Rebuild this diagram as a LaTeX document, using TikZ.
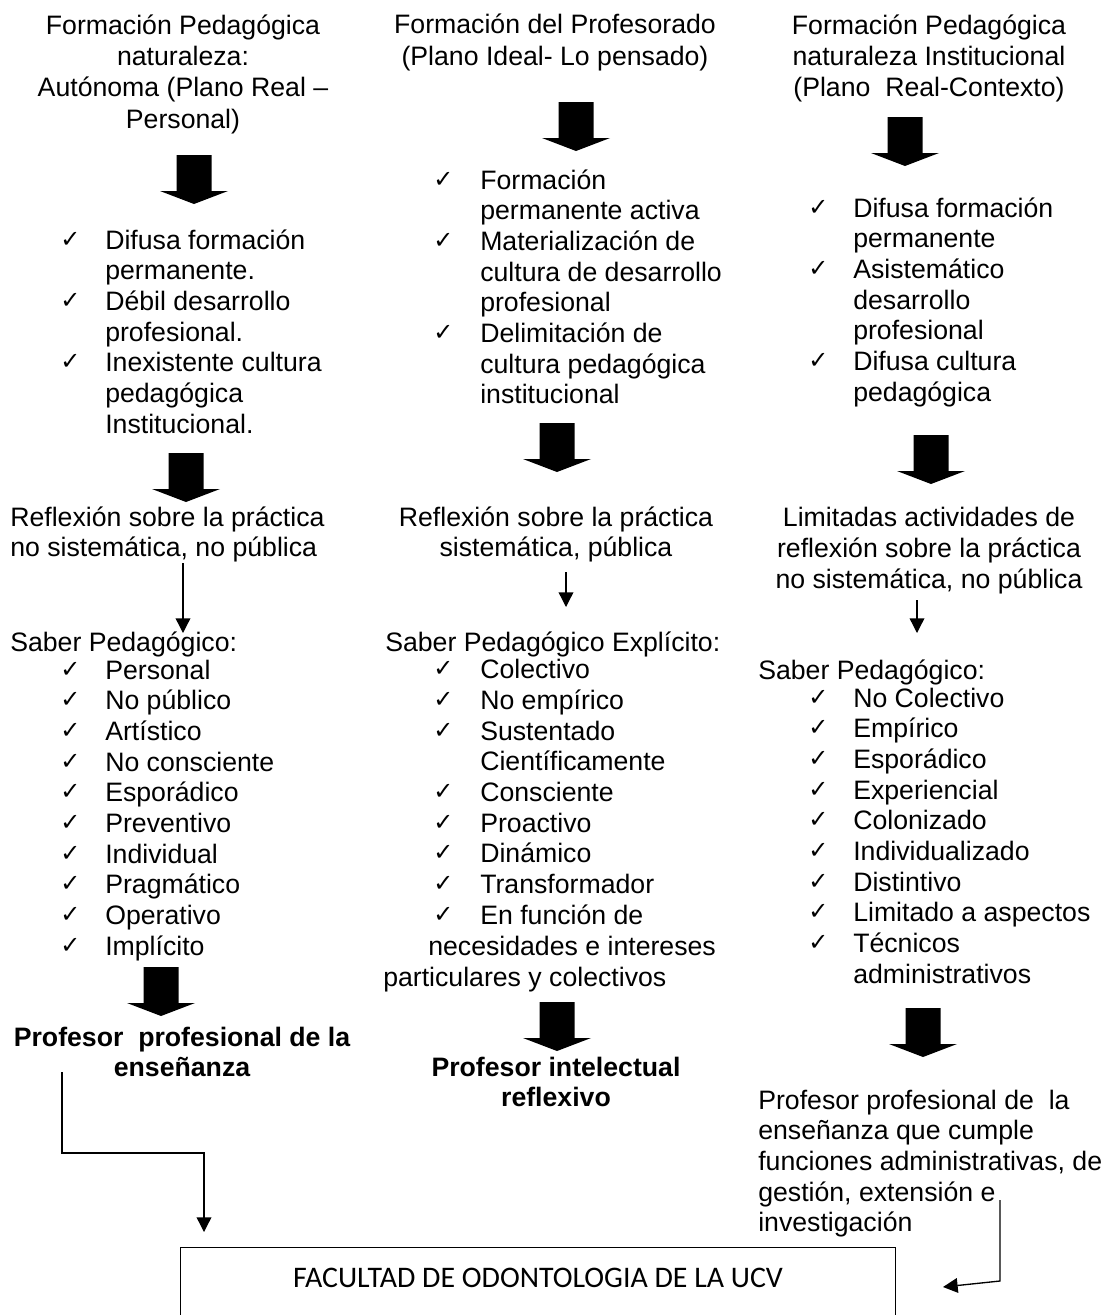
\documentclass[tikz,border=0pt]{standalone}
\usepackage{fontspec}
\setmainfont{Liberation Sans}
\newfontfamily\checkfont{DejaVu Sans}
\newfontfamily\calib{Carlito}
\usetikzlibrary{arrows.meta}
\newcommand\chkA{\makebox[33.75pt][l]{\raisebox{1.5pt}{\checkfont\fontsize{18}{18}\selectfont ✓}}}
\newcommand\indA{\hspace*{33.75pt}}
\newcommand\chkB{\makebox[35.25pt][l]{\raisebox{1.5pt}{\checkfont\fontsize{18}{18}\selectfont ✓}}}
\newcommand\indB{\hspace*{35.25pt}}
\newcommand\barrow[2]{\fill[black] (#1-17.5,#2) -- (#1+17.5,#2) -- (#1+17.5,#2+36) -- (#1+34,#2+36) -- (#1,#2+49) -- (#1-34,#2+36) -- (#1-17.5,#2+36) -- cycle;}
\begin{document}
\begin{tikzpicture}[x=0.75pt,y=-0.75pt,
  ttl/.style={inner sep=0pt, align=center, anchor=base, font=\fontsize{20}{23.5}\selectfont},
  lst/.style={inner sep=0pt, align=left, anchor=base west, font=\fontsize{20}{23}\selectfont},
  ctr/.style={inner sep=0pt, align=center, anchor=base, font=\fontsize{20}{23}\selectfont},
  bld/.style={inner sep=0pt, align=center, anchor=base, font=\bfseries\fontsize{20}{23}\selectfont},
  conn/.style={line width=1pt, -{Triangle[width=11pt,length=11pt]}},
  box/.style={draw, line width=0.9pt, inner sep=0pt, anchor=north west, minimum width=536.25pt, minimum height=75pt},
]
\path[use as bounding box, clip] (0,0) rectangle (1104,1315);
% (multi-line nodes are placed by the baseline of their last line)

% ---------- column 1 ----------
\node[ttl] (t1) at (183,128) {Formación Pedagógica\\naturaleza:\\Autónoma (Plano Real –\\Personal)};
\barrow{194}{155}
\node[lst] (l1) at (60,433) {\chkA Difusa formación\\\indA permanente.\\\chkA Débil desarrollo\\\indA profesional.\\\chkA Inexistente cultura\\\indA pedagógica\\\indA Institucional.};
\barrow{186}{453}
\node[lst] (r1) at (10,556.7) {Reflexión sobre la práctica\\no sistemática, no pública};
\node[lst] (s1h) at (10,651) {Saber Pedagógico:};
\node[lst] (s1) at (60,955) {\chkA Personal\\\chkA No público\\\chkA Artístico\\\chkA No consciente\\\chkA Esporádico\\\chkA Preventivo\\\chkA Individual\\\chkA Pragmático\\\chkA Operativo\\\chkA Implícito};
\barrow{161}{967}
\node[bld] (p1) at (182,1076.7) {Profesor\ \ profesional de la\\enseñanza};

% ---------- column 2 ----------
\node[ttl] (t2) at (555,65.3) {Formación del Profesorado\\(Plano Ideal- Lo pensado)};
\barrow{576}{102}
\node[lst] (l2) at (433,403.7) {\chkB Formación\\\indB permanente activa\\\chkB Materialización de\\\indB cultura de desarrollo\\\indB profesional\\\chkB Delimitación de\\\indB cultura pedagógica\\\indB institucional};
\barrow{557}{423}
\node[ctr] (r2) at (556,556.7) {Reflexión sobre la práctica\\sistemática, pública};
\node[lst] (s2h) at (385,651) {Saber Pedagógico Explícito:};
\node[lst] (s2) at (433,924.3) {\chkB Colectivo\\\chkB No empírico\\\chkB Sustentado\\\indB Científicamente\\\chkB Consciente\\\chkB Proactivo\\\chkB Dinámico\\\chkB Transformador\\\chkB En función de};
\node[lst] (s2b) at (428,955) {necesidades e intereses};
\node[lst] (s2c) at (383,986) {particulares y colectivos};
\barrow{557}{1002}
\node[bld] (p2) at (556,1106.7) {Profesor intelectual\\reflexivo};

% ---------- column 3 ----------
\node[ttl] (t3) at (929,96.7) {Formación Pedagógica\\naturaleza Institucional\\(Plano\ \ Real-Contexto)};
\barrow{905}{117}
\node[lst] (l3) at (808,401) {\chkA Difusa formación\\\indA permanente\\\chkA Asistemático\\\indA desarrollo\\\indA profesional\\\chkA Difusa cultura\\\indA pedagógica};
\barrow{931}{435}
\node[ctr] (r3) at (929,588.3) {Limitadas actividades de\\reflexión sobre la práctica\\no sistemática, no pública};
\node[lst] (s3h) at (758,679) {Saber Pedagógico:};
\node[lst] (s3) at (808,983) {\chkA No Colectivo\\\chkA Empírico\\\chkA Esporádico\\\chkA Experiencial\\\chkA Colonizado\\\chkA Individualizado\\\chkA Distintivo\\\chkA Limitado a aspectos\\\chkA Técnicos\\\indA administrativos};
\barrow{923}{1008}
\node[lst] (p3) at (758,1231.7) {Profesor profesional de\ \ la\\enseñanza que cumple\\funciones administrativas, de\\gestión, extensión e\\investigación};

% ---------- bottom box ----------
\node[box] (fbox) at (180,1247) {};
\node[inner sep=0pt, anchor=base, font=\calib\fontsize{22.4}{22.4}\selectfont] (fac) at (538,1287) {FACULTAD DE ODONTOLOGIA DE LA UCV};

% ---------- thin connectors ----------
\coordinate (a1s) at (183,563); \coordinate (a1e) at (183,633);
\coordinate (a2s) at (566,572); \coordinate (a2e) at (566,607);
\coordinate (a3s) at (917,600); \coordinate (a3e) at (917,633);
\draw[conn] (a1s) -- (a1e);
\draw[conn] (a2s) -- (a2e);
\draw[conn] (a3s) -- (a3e);

\coordinate (b1) at (62,1072); \coordinate (b2) at (62,1153);
\coordinate (b3) at (204,1153); \coordinate (b4) at (204,1232);
\draw[conn] (b1) -- (b2) -- (b3) -- (b4);
\coordinate (c1) at (1000,1200); \coordinate (c2) at (1000,1281);
\coordinate (c3) at (943,1287);
\draw[conn] (c1) -- (c2) -- (c3);
\end{tikzpicture}
\end{document}
